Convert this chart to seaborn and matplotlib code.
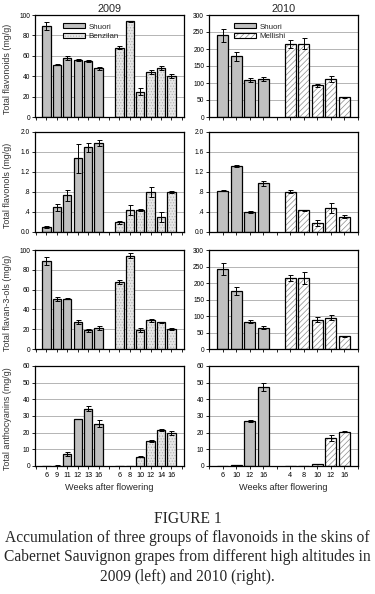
import numpy as np
import pandas as pd
import matplotlib
matplotlib.use("Agg")
import matplotlib.pyplot as plt
import seaborn as sns
from matplotlib.patches import Patch

# weeks after flowering
weeks_09_shuori = [6, 9, 11, 12, 13, 16]
weeks_09_benzilan = [6, 8, 10, 12, 14, 16]
weeks_10_shuori = [6, 10, 12, 16]
weeks_10_mellishi = [4, 8, 10, 12, 16]

# total flavonoids (mg/g)
flavonoids_09_shuori = [89, 51, 58, 56, 55, 48]
flavonoids_09_shuori_err = [4, 0.5, 2, 1, 1, 1.5]
flavonoids_09_benzilan = [68, 94, 25, 44, 48, 40]
flavonoids_09_benzilan_err = [1.5, 0.5, 3, 2, 2, 2]
flavonoids_10_shuori = [240, 178, 108, 112]
flavonoids_10_shuori_err = [18, 13, 6, 6]
flavonoids_10_mellishi = [214, 216, 93, 112, 58]
flavonoids_10_mellishi_err = [12, 15, 4, 10, 2]

# total flavonols (mg/g)
flavonols_09_shuori = [0.10, 0.50, 0.74, 1.48, 1.70, 1.78]
flavonols_09_shuori_err = [0.02, 0.07, 0.11, 0.29, 0.09, 0.06]
flavonols_09_benzilan = [0.20, 0.44, 0.44, 0.80, 0.30, 0.80]
flavonols_09_benzilan_err = [0.03, 0.10, 0.02, 0.10, 0.10, 0.02]
flavonols_10_shuori = [0.83, 1.32, 0.41, 0.98]
flavonols_10_shuori_err = [0.01, 0.02, 0.02, 0.05]
flavonols_10_mellishi = [0.81, 0.44, 0.18, 0.48, 0.31]
flavonols_10_mellishi_err = [0.03, 0.01, 0.06, 0.10, 0.03]

# total flavan-3-ols (mg/g)
flavanols_09_shuori = [89, 50.5, 51, 27, 19, 21]
flavanols_09_shuori_err = [4, 2.5, 0.8, 2, 1.5, 2]
flavanols_09_benzilan = [68, 94, 19, 29, 27, 20]
flavanols_09_benzilan_err = [2, 2.5, 2, 1.3, 0.5, 1]
flavanols_10_shuori = [242, 176, 83, 65]
flavanols_10_shuori_err = [18, 12, 4, 4]
flavanols_10_mellishi = [215, 215, 89, 95, 38]
flavanols_10_mellishi_err = [9, 17, 8, 8, 2]

# total anthocyanins (mg/g)
antho_09_shuori = [0, 0.3, 7.2, 28.5, 34.5, 25.5]
antho_09_shuori_err = [0, 0.2, 1, 0, 1.5, 2.3]
antho_09_benzilan = [0, 0, 5.5, 15.2, 21.8, 20]
antho_09_benzilan_err = [0, 0, 0.3, 0.5, 0.5, 1.2]
antho_10_shuori = [0, 0.5, 27, 47.5]
antho_10_shuori_err = [0, 0.1, 0.8, 2.3]
antho_10_mellishi = [0, 0, 1.2, 17, 20.5]
antho_10_mellishi_err = [0, 0, 0.1, 1.8, 0.3]

ylabels = ["Total flavonoids (mg/g)", "Total flavonols (mg/g)",
           "Total flavan-3-ols (mg/g)", "Total anthocyanins (mg/g)"]
yticks_rows = [[0, 20, 40, 60, 80, 100], [0, 0.4, 0.8, 1.2, 1.6, 2.0],
               [0, 20, 40, 60, 80, 100], [0, 10, 20, 30, 40, 50, 60]]
yticks_rows_10 = [[0, 50, 100, 150, 200, 250, 300], [0, 0.4, 0.8, 1.2, 1.6, 2.0],
                  [0, 50, 100, 150, 200, 250, 300], [0, 10, 20, 30, 40, 50, 60]]
flavonol_ticklabels = ["0.0", ".4", ".8", "1.2", "1.6", "2.0"]

sns.set_style("ticks")
plt.rcParams["font.family"] = ["Liberation Sans", "DejaVu Sans"]
plt.rcParams["hatch.linewidth"] = 0.5

fig = plt.figure(figsize=(3.75, 5.94), dpi=100)

W = 375.0
H = 594.0
col_x = [35, 209]
col_w = 149
rows = [(15, 117), (132, 232), (250, 349), (366, 466)]
BAR_W = 0.8

styles = {
    "Shuori": dict(face="#c0c0c0", hatch=None, hc="#c0c0c0"),
    "Benzilan": dict(face="#e6e6e6", hatch="......", hc="#b0b0b0"),
    "Mellishi": dict(face="white", hatch="//////", hc="#8c8c8c"),
}

data_09 = [
    (flavonoids_09_shuori, flavonoids_09_shuori_err, flavonoids_09_benzilan, flavonoids_09_benzilan_err),
    (flavonols_09_shuori, flavonols_09_shuori_err, flavonols_09_benzilan, flavonols_09_benzilan_err),
    (flavanols_09_shuori, flavanols_09_shuori_err, flavanols_09_benzilan, flavanols_09_benzilan_err),
    (antho_09_shuori, antho_09_shuori_err, antho_09_benzilan, antho_09_benzilan_err),
]
data_10 = [
    (flavonoids_10_shuori, flavonoids_10_shuori_err, flavonoids_10_mellishi, flavonoids_10_mellishi_err),
    (flavonols_10_shuori, flavonols_10_shuori_err, flavonols_10_mellishi, flavonols_10_mellishi_err),
    (flavanols_10_shuori, flavanols_10_shuori_err, flavanols_10_mellishi, flavanols_10_mellishi_err),
    (antho_10_shuori, antho_10_shuori_err, antho_10_mellishi, antho_10_mellishi_err),
]


def fix_width(patches):
    for p in patches:
        cx = p.get_x() + p.get_width() / 2
        p.set_width(BAR_W)
        p.set_x(cx - BAR_W / 2)


def draw_panel(ax, a, a_err, b, b_err, name_b, weeks_a, weeks_b, yticks, xlim, bottom):
    pos_a = list(range(len(a)))
    pos_b = [len(a) + 1 + i for i in range(len(b))]
    df = pd.DataFrame({
        "pos": pos_a + pos_b,
        "val": list(a) + list(b),
        "cult": ["Shuori"] * len(a) + [name_b] * len(b),
    })
    ax.set_axisbelow(True)
    ax.yaxis.grid(True, color="#a8a8a8", linewidth=0.6)
    # fill + hatch layer
    sns.barplot(data=df, x="pos", y="val", hue="cult", native_scale=True, dodge=False,
                errorbar=None, legend=False, ax=ax,
                palette={"Shuori": styles["Shuori"]["face"], name_b: styles[name_b]["face"]})
    fill_patches = list(ax.patches)
    for p in fill_patches:
        cx = p.get_x() + p.get_width() / 2
        st = styles["Shuori"] if cx < len(a) else styles[name_b]
        p.set_facecolor(st["face"])
        p.set_edgecolor(st["hc"])
        p.set_linewidth(0)
        if st["hatch"]:
            p.set_hatch(st["hatch"])
    fix_width(fill_patches)
    # outline layer
    sns.barplot(data=df, x="pos", y="val", hue="cult", native_scale=True, dodge=False,
                errorbar=None, legend=False, ax=ax, fill=False,
                palette={"Shuori": "black", name_b: "black"}, linewidth=0.9)
    fix_width([p for p in ax.patches if p not in fill_patches])
    ax.errorbar(df["pos"], df["val"], yerr=list(a_err) + list(b_err), fmt="none",
                ecolor="black", elinewidth=0.7, capsize=1.8, capthick=0.7, zorder=5)
    ax.set_xlim(*xlim)
    ax.set_ylim(yticks[0], yticks[-1])
    ax.set_yticks(yticks)
    ax.xaxis.remove_overlapping_locs = False
    ax.set_xticks(range(int(np.ceil(xlim[0])), int(np.floor(xlim[1])) + 1))
    ax.set_xticklabels([])
    if bottom:
        ax.set_xticks(pos_a + pos_b, minor=True)
        ax.set_xticklabels([str(w) for w in list(weeks_a) + list(weeks_b)], minor=True)
        ax.tick_params(axis="x", which="minor", length=0, labelsize=5.2, pad=4, colors="black")
        ax.set_xlabel("Weeks after flowering", fontsize=6.6, labelpad=3)
    else:
        ax.set_xlabel("")
    ax.set_ylabel("")
    ax.tick_params(axis="both", which="major", direction="out", length=2, width=0.6,
                   labelsize=4.8, pad=1.5, colors="black")
    for s in ax.spines.values():
        s.set_visible(True)
        s.set_color("black")
        s.set_linewidth(0.9)


for r, (top, bot) in enumerate(rows):
    for c in range(2):
        ax = fig.add_axes([col_x[c] / W, 1 - bot / H, col_w / W, (bot - top) / H])
        if c == 0:
            a, ae, b, be = data_09[r]
            draw_panel(ax, a, ae, b, be, "Benzilan", weeks_09_shuori, weeks_09_benzilan,
                       yticks_rows[r], (-1.1, 13.2), r == 3)
            ax.set_ylabel(ylabels[r], fontsize=6.4, color="#333333")
            ax.yaxis.set_label_coords(-0.155, 0.47)
        else:
            a, ae, b, be = data_10[r]
            draw_panel(ax, a, ae, b, be, "Mellishi", weeks_10_shuori, weeks_10_mellishi,
                       yticks_rows_10[r], (-1.0, 10.0), r == 3)
        if r == 1:
            ax.set_yticklabels(flavonol_ticklabels)
        if r == 0:
            ax.set_title("2009" if c == 0 else "2010", fontsize=7.8, pad=2)
            name_b = "Benzilan" if c == 0 else "Mellishi"
            h_a = Patch(facecolor=styles["Shuori"]["face"], edgecolor="black", linewidth=0.8)
            h_b = (Patch(facecolor=styles[name_b]["face"], edgecolor=styles[name_b]["hc"],
                         hatch=styles[name_b]["hatch"], linewidth=0.0),
                   Patch(fill=False, edgecolor="black", linewidth=0.8))
            ax.legend([h_a, h_b], ["Shuori", name_b], loc="upper left",
                      bbox_to_anchor=(0.17 if c else 0.19, 0.92), frameon=False,
                      fontsize=5.7, handlelength=2.8, handleheight=0.65,
                      handletextpad=0.35, labelspacing=0.3, borderaxespad=0,
                      borderpad=0)

caption = ("FIGURE 1\n"
           "Accumulation of three groups of flavonoids in the skins of\n"
           "Cabernet Sauvignon grapes from different high altitudes in\n"
           "2009 (left) and 2010 (right).")
fig.text(0.5, 1 - 511 / H, caption, ha="center", va="top", fontsize=11.2,
         family=["Liberation Serif", "DejaVu Serif"], linespacing=1.27)

fig.savefig("out.png", dpi=100)
